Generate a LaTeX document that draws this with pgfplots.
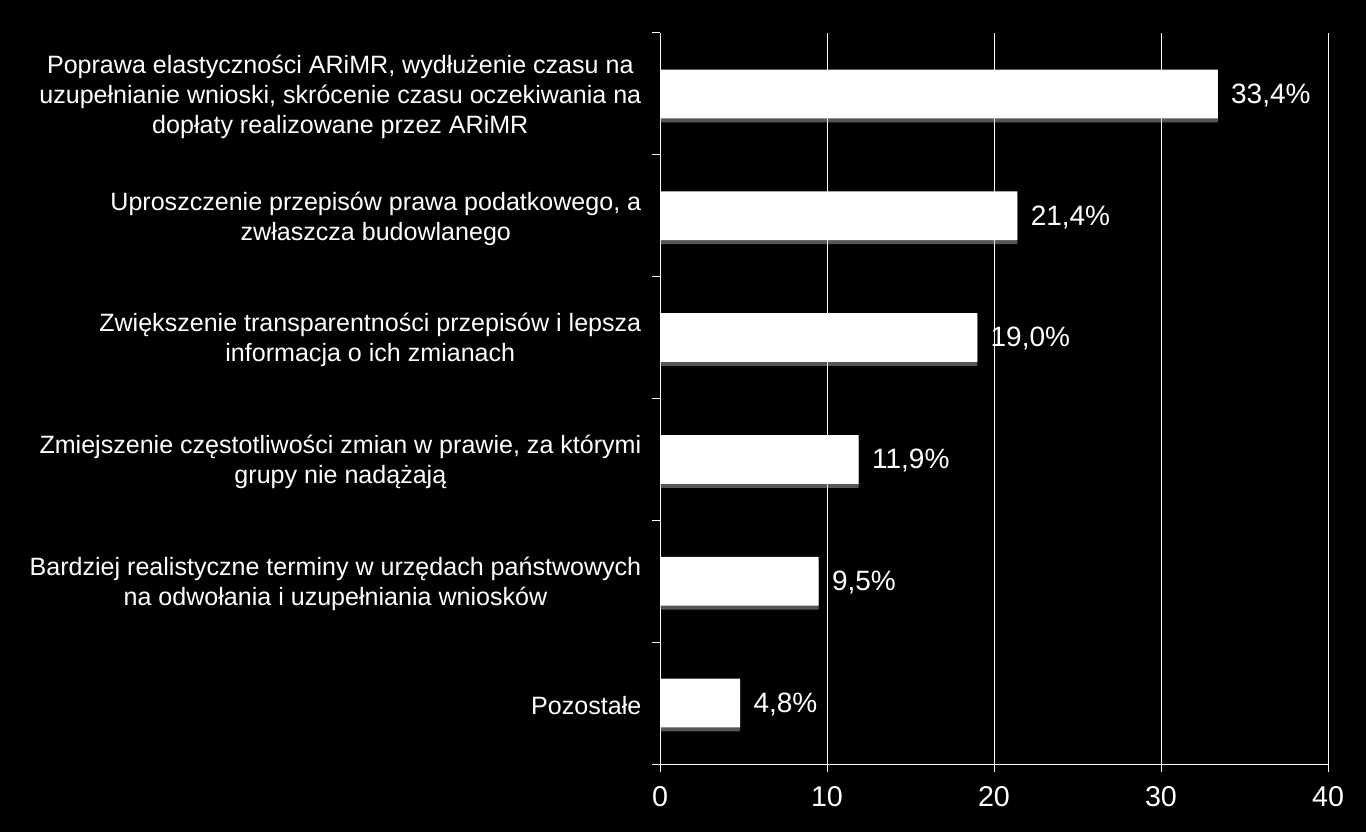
\documentclass[border=0pt]{standalone}
\usepackage{fontspec}
\setmainfont{Liberation Sans}
\usepackage{pgfplots}
\pgfplotsset{compat=1.18}
\usetikzlibrary{shadows}
\begin{document}
\begin{tikzpicture}
\fill[black] (0,0) rectangle (1024.5pt,624pt);
\useasboundingbox (0,0) rectangle (1024.5pt,624pt);
\begin{axis}[
  at={(495pt,51pt)}, anchor=south west,
  width=501pt, height=548.25pt, scale only axis,
  xbar, bar width=0.4,
  xmin=0, xmax=40, ymin=-0.5, ymax=5.5,
  xtick={0,10,20,30,40},
  ytick={0,...,5},
  yticklabels={
    {Pozostałe},
    {Bardziej realistyczne terminy w urzędach państwowych\\na odwołania i uzupełniania wniosków},
    {Zmiejszenie częstotliwości zmian w prawie, za którymi\\grupy nie nadążają},
    {Zwiększenie transparentności przepisów i lepsza\\informacja o ich zmianach},
    {Uproszczenie przepisów prawa podatkowego, a\\zwłaszcza budowlanego},
    {Poprawa elastyczności ARiMR, wydłużenie czasu na\\uzupełnianie wnioski, skrócenie czasu oczekiwania na\\dopłaty realizowane przez ARiMR}
  },
  minor ytick={-0.5,0.5,...,5.5},
  every major y tick/.style={draw=none},
  major tick length=6pt, minor tick length=6pt,
  tick align=outside,
  axis x line*=bottom, axis y line*=left,
  axis line style={white, -, line width=0.75pt},
  tick style={white, line width=0.75pt},
  xmajorgrids, grid style={white, line width=0.75pt},
  /pgf/number format/assume math mode=true,
  xticklabel style={font=\fontsize{21.5}{25}\selectfont, text=white, yshift=-7pt},
  yticklabel style={font=\fontsize{18.8}{22.5}\selectfont, text=white, align=center, xshift=-4.5pt, yshift=-2pt},
  point meta=explicit symbolic,
  nodes near coords,
  nodes near coords style={font=\fontsize{21}{25}\selectfont, text=white, anchor=west, xshift=6.5pt, yshift=-1pt},
]
\addplot[fill=white, draw=none, drop shadow={shadow xshift=0pt, shadow yshift=-3pt, fill=gray!50, opacity=0.45}] coordinates {
  (4.8,0) [4,8\%]
  (9.5,1) [9,5\%]
  (11.9,2) [11,9\%]
  (19.0,3) [19,0\%]
  (21.4,4) [21,4\%]
  (33.4,5) [33,4\%]
};
\end{axis}
\end{tikzpicture}
\end{document}
